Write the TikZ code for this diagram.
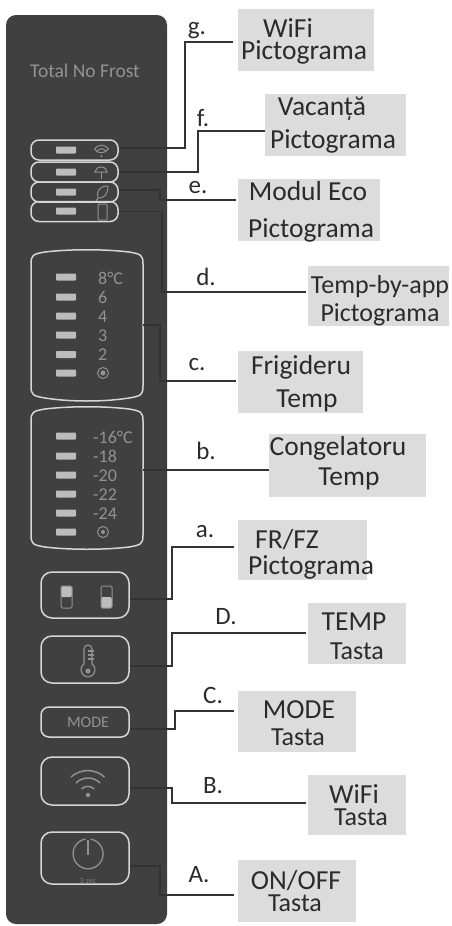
\documentclass[tikz,border=0pt]{standalone}
\usepackage{fontspec}
\setmainfont{Carlito}
\definecolor{panel}{HTML}{404040}
\definecolor{lbox}{HTML}{DCDCDC}
\definecolor{outl}{HTML}{D6D6D6}
\definecolor{led}{HTML}{BCBCBC}
\definecolor{ptext}{HTML}{929292}
\definecolor{ink}{HTML}{2B2B2B}
\definecolor{conn}{HTML}{333333}
\tikzset{
  greybox/.style={fill=lbox,draw=none,inner sep=0pt},
  lab/.style={font=\fontsize{27.5}{27.5}\selectfont,text=ink,anchor=base,inner sep=0pt},
  labs/.style={font=\fontsize{26}{26}\selectfont,text=ink,anchor=base,inner sep=0pt},
  letter/.style={font=\fontsize{25}{25}\selectfont,text=ink,anchor=base,inner sep=0pt},
  ptxt/.style={font=\fontsize{18}{18}\selectfont,text=ptext,anchor=base west,inner sep=0pt},
  keybox/.style={draw=outl,line width=1.5pt,rounded corners=11pt,inner sep=0pt,minimum width=88pt},
  rowbox/.style={draw=outl,line width=1.5pt,rounded corners=8pt,inner sep=0pt,minimum width=87pt,minimum height=20pt},
  ledbar/.style={fill=led,draw=none,rounded corners=0.8pt,inner sep=0pt,minimum width=20pt,minimum height=7pt},
  icon/.style={draw=ptext,line width=1pt},
  wire/.style={draw=conn,line width=1.2pt},
}
\newcommand{\gbox}[5]{\node[greybox,minimum width=#4pt-#2pt,minimum height=#5pt-#3pt] (#1) at ({(#2+#4)/2},{(#3+#5)/2}) {};}
\begin{document}
\begin{tikzpicture}[x=1pt,y=-1pt]
\useasboundingbox (0,0) rectangle (451,926);
% panel
\node[fill=panel,draw=none,rounded corners=10pt,inner sep=0pt,minimum width=161pt,minimum height=909pt] (panel) at (86.5,469.5) {};
\node[font=\fontsize{19.5}{19.5}\selectfont,text=ptext,inner sep=0pt] (brand) at (85,71) {Total No Frost};
% small rows
\node[rowbox] (rowg) at (74.5,150) {};
\node[rowbox] (rowf) at (74.5,172) {};
\node[rowbox] (rowe) at (74.5,192) {};
\node[rowbox] (rowd) at (74.5,211.5) {};
\foreach \n/\y in {l1/150,l2/172,l3/192,l4/211}{\node[ledbar] (\n) at (66,\y) {};}
% small icons
\draw[icon] (94.5,149) .. controls (98,144) and (105,144) .. (108.5,149);
\draw[icon] (97,151) .. controls (100,148) and (103,148) .. (106,151);
\draw[icon] (94.5,149) .. controls (97,154) and (105,154) .. (108.5,149);
\fill[ptext] (101.5,156) circle (1.2pt);
\draw[icon] (95,172) arc (180:0:6pt and 5pt) -- cycle;
\draw[icon] (101,172) -- (101,179);
\draw[icon] (108,186) .. controls (99,186) and (96,192) .. (98,198) .. controls (104,199) and (108,194) .. (108,186);
\draw[icon] (98,198) -- (96,201);
\draw[icon,rounded corners=1pt] (98,204) rectangle (107,220);
% fridge box
\draw[draw=outl,line width=1.5pt] (31,264) .. controls (31,255) and (33,254) .. (45,252) .. controls (70,249) and (104,249) .. (129,252) .. controls (141,254) and (143,255) .. (143,264) -- (143,386) .. controls (143,395) and (141,396) .. (129,398) .. controls (104,402) and (70,402) .. (45,398) .. controls (33,396) and (31,395) .. (31,386) -- cycle;
\node[inner sep=0pt,minimum width=112pt,minimum height=150pt] (fridge) at (87,325) {};
\foreach \n/\y in {f1/277,f2/297,f3/316,f4/335,f5/354.5,f6/373}{\node[ledbar] (\n) at (66,\y) {};}
\node[ptxt] (t1) at (98,284) {8°C};
\node[ptxt] (t2) at (98,303) {6};
\node[ptxt] (t3) at (98,322) {4};
\node[ptxt] (t4) at (98,341) {3};
\node[ptxt] (t5) at (98,360.5) {2};
\draw[icon] (103,373) circle (5.5pt);
\fill[ptext] (103,373) circle (2.6pt);
% freezer box
\draw[draw=outl,line width=1.5pt] (31,421) .. controls (31,412) and (33,411) .. (45,409) .. controls (70,406) and (104,406) .. (129,409) .. controls (141,411) and (143,412) .. (143,421) -- (143,535) .. controls (143,544) and (141,545) .. (129,547) .. controls (104,550) and (70,550) .. (45,547) .. controls (33,545) and (31,544) .. (31,535) -- cycle;
\node[inner sep=0pt,minimum width=112pt,minimum height=141pt] (freezer) at (87,470) {};
\foreach \n/\y in {z1/436,z2/456,z3/475,z4/494,z5/513,z6/532}{\node[ledbar] (\n) at (66,\y) {};}
\node[ptxt] (u1) at (93,443) {-16°C};
\node[ptxt] (u2) at (93,462.5) {-18};
\node[ptxt] (u3) at (93,481.5) {-20};
\node[ptxt] (u4) at (93,500.5) {-22};
\node[ptxt] (u5) at (93,519.5) {-24};
\draw[icon] (103,532) circle (5.5pt);
\fill[ptext] (103,532) circle (2pt);
% keys
\node[keybox,minimum height=46pt] (keyfz) at (85,595) {};
\node[keybox,minimum height=47pt] (keytemp) at (85,659.5) {};
\node[keybox,minimum height=30pt,rounded corners=8pt] (keymode) at (85,722) {};
\node[font=\fontsize{16}{16}\selectfont,text=ptext,inner sep=0pt] (modetxt) at (88,722) {MODE};
\node[keybox,minimum height=48pt] (keywifi) at (85,781) {};
\node[keybox,minimum height=52pt] (keypower) at (85,858) {};
% fr/fz icons
\fill[led,rounded corners=1.5pt] (61,586) rectangle (72,597);
\draw[icon,rounded corners=1.5pt] (61,586) rectangle (72,608);
\fill[led,rounded corners=1.5pt] (101,597) rectangle (112,608);
\draw[icon,rounded corners=1.5pt] (101,586) rectangle (112,608);
% thermometer
\draw[ptext,line width=1.2pt] (84,664) -- (84,649) arc (180:0:4pt) -- (92,664) arc (55:-235:7pt);
\draw[ptext,line width=1.2pt] (88,651) -- (94,651) (88,655) -- (94,655) (88,659) -- (94,659);
\fill[ptext] (88,671) circle (2.5pt);
% wifi key icon
\fill[ptext] (88,795) circle (2.2pt);
\draw[ptext,line width=1.5pt] (81.5,789) arc (135:45:9pt);
\draw[ptext,line width=1.5pt] (76,783) arc (135:45:17pt);
\draw[ptext,line width=1.5pt] (71,777) arc (132:48:25pt);
% power icon
\draw[ptext,line width=1.3pt] (85.5,839) arc (100:440:15pt);
\draw[ptext,line width=1.6pt] (88,840) -- (88,855);
\node[font=\fontsize{8}{8}\selectfont,text=ptext!70!panel,inner sep=0pt] (sec) at (88,881) {3 sec};
% grey label boxes
\gbox{bg}{238}{9}{374}{71}
\gbox{bf}{265}{94}{406}{156}
\gbox{be}{238}{179}{380}{241}
\gbox{bd}{308}{266}{449}{326}
\gbox{bc}{238}{351}{363}{413}
\gbox{bb}{269}{434}{426}{497}
\gbox{ba}{238}{520}{367}{580}
\gbox{bD}{308}{603}{406}{664}
\gbox{bC}{238}{691}{356}{752}
\gbox{bB}{308}{775}{406}{835}
\gbox{bA}{238}{860}{356}{922}
% label text
\node[lab] (g1) at (288,37) {WiFi};
\node[lab] (g2) at (304,59) {Pictograma};
\node[lab] (f1) at (322,115) {Vacanță};
\node[lab] (f2) at (333,148) {Pictograma};
\node[lab] (e1) at (308,200) {Modul Eco};
\node[lab] (e2) at (311,237) {Pictograma};
\node[labs] (d1) at (380,293) {Temp-by-app};
\node[labs] (d2) at (380,321) {Pictograma};
\node[lab] (c1) at (301,374) {Frigideru};
\node[lab] (c2) at (307,407) {Temp};
\node[lab] (b1) at (338,455) {Congelatoru};
\node[lab] (b2) at (349,485) {Temp};
\node[lab] (a1) at (287,548) {FR/FZ};
\node[lab] (a2) at (311,574) {Pictograma};
\node[lab] (D1) at (354,630) {TEMP};
\node[labs] (D2) at (357,659) {Tasta};
\node[lab] (C1) at (299,718) {MODE};
\node[labs] (C2) at (298,745) {Tasta};
\node[lab] (B1) at (354,803) {WiFi};
\node[labs] (B2) at (361,825) {Tasta};
\node[lab] (A1) at (296,889) {ON/OFF};
\node[labs] (A2) at (295,911) {Tasta};
% letters
\node[letter] (lg) at (197,34) {g.};
\node[letter] (lf) at (203,126) {f.};
\node[letter] (le) at (198,193) {e.};
\node[letter] (ld) at (206,285) {d.};
\node[letter] (lc) at (197,370) {c.};
\node[letter] (lb) at (206,459) {b.};
\node[letter] (la) at (205,537) {a.};
\node[letter] (lD) at (226,624) {D.};
\node[letter] (lC) at (213,703) {C.};
\node[letter] (lB) at (213,793) {B.};
\node[letter] (lA) at (199,882) {A.};
% connector ends
\coordinate (eg) at (233,42);
\coordinate (ef) at (265,131);
\coordinate (ee) at (236,200);
\coordinate (ed) at (306,292);
\coordinate (ec) at (236,381);
\coordinate (eb) at (269,470);
\coordinate (ea) at (234,547);
\coordinate (eD) at (306,633);
\coordinate (eC) at (234,711);
\coordinate (eB) at (306,803);
\coordinate (eA) at (234,895);
% connectors
\draw[wire] ([yshift=2pt]rowg.east) -| (185,42) -- (eg);
\draw[wire] (rowf.east) -| (198,131) -- (ef);
\draw[wire] ([yshift=2pt]rowe.east) -| (160,200) -- (ee);
\draw[wire] (rowd.east) -| (162,292) -- (ed);
\draw[wire] (fridge.east) -| (160,381) -- (ec);
\draw[wire] (freezer.east) -- (eb);
\draw[wire] ([yshift=-4pt]keyfz.east) -| (172,547) -- (ea);
\draw[wire] ([yshift=-6.5pt]keytemp.east) -| (172,633) -- (eD);
\draw[wire] ([yshift=-7pt]keymode.east) -| (175,711) -- (eC);
\draw[wire] ([yshift=-7pt]keywifi.east) -| (172,803) -- (eB);
\draw[wire] ([yshift=-8pt]keypower.east) -| (160,895) -- (eA);
\end{tikzpicture}
\end{document}
